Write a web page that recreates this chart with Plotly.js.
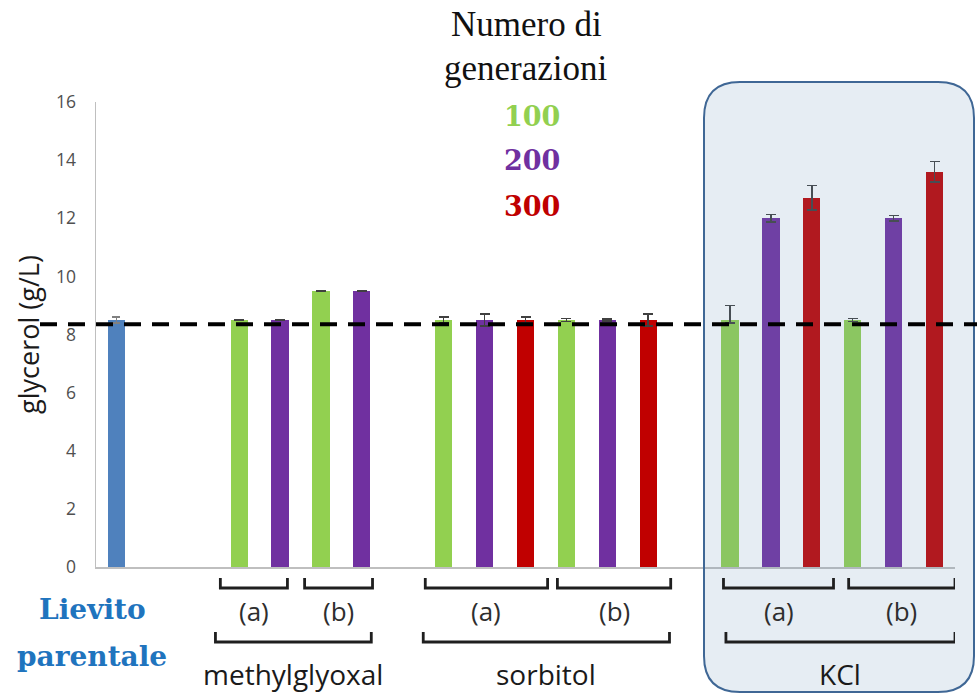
<!DOCTYPE html>
<html>
<head>
<meta charset="utf-8">
<script src="https://cdn.plot.ly/plotly-3.0.1.min.js"></script>
<style>
  html, body { margin: 0; padding: 0; background: #ffffff; }
  #chart { width: 977px; height: 694px; }
</style>
</head>
<body>
<div id="chart"></div>
<script>
// Glycerol production (g/L) of the parental yeast and of evolved lines
// after 100, 200 and 300 generations under three stress conditions.
const parentName = 'Lievito parentale';
const parentValue = [8.5];
const parentError = [0.1];

const conditions = ['methylglyoxal (a)', 'methylglyoxal (b)', 'sorbitol (a)', 'sorbitol (b)', 'KCl (a)', 'KCl (b)'];
const treatments = ['methylglyoxal', 'methylglyoxal', 'sorbitol', 'sorbitol', 'KCl', 'KCl'];
const replicates = ['(a)', '(b)', '(a)', '(b)', '(a)', '(b)'];

const generations = ['100', '200', '300'];
const gen100 = [8.5, 9.5, 8.5, 8.5, 8.5, 8.5];
const gen100ErrPlus = [0, 0, 0.1, 0.05, 0.5, 0.05];
const gen100ErrMinus = [0, 0, 0.1, 0.05, 0.1, 0.05];
const gen200 = [8.5, 9.5, 8.5, 8.5, 12.0, 12.0];
const gen200ErrPlus = [0, 0, 0.2, 0.03, 0.13, 0.1];
const gen200ErrMinus = [0, 0, 0.2, 0.03, 0.13, 0.1];
const gen300 = [null, null, 8.5, 8.5, 12.7, 13.6];
const gen300ErrPlus = [0, 0, 0.1, 0.2, 0.42, 0.35];
const gen300ErrMinus = [0, 0, 0.1, 0.2, 0.42, 0.35];

const baselineLevel = 8.35;

const yTicks = [0, 2, 4, 6, 8, 10, 12, 14, 16];

// ---- styling ----
const genColors = ['#92d050', '#7030a0', '#c00000'];
const parentColor = '#4f81bd';
const errColor = '#404040';

// Plot area in pixels (used to place decorations outside the axes)
const M = { l: 96, r: 22, t: 102, b: 127 };
const W = 977, H = 694;
const PW = W - M.l - M.r, PH = H - M.t - M.b;
const px = v => (v - M.l) / PW;          // pixel x -> paper x
const py = v => (H - M.b - v) / PH;      // pixel y -> paper y

// ---- slot layout: one slot per bar, blank slots between treatments ----
const series = [
  { vals: gen100, plus: gen100ErrPlus, minus: gen100ErrMinus },
  { vals: gen200, plus: gen200ErrPlus, minus: gen200ErrMinus },
  { vals: gen300, plus: gen300ErrPlus, minus: gen300ErrMinus }
];
const parentSlot = 0;
let cursor = 3;
const slotX = series.map(() => []);
const condSlots = [];
conditions.forEach((c, i) => {
  if (i > 0 && treatments[i] !== treatments[i - 1]) cursor += 1;
  const used = [];
  series.forEach((s, k) => {
    if (s.vals[i] !== null) { slotX[k][i] = cursor; used.push(cursor); cursor++; }
    else slotX[k][i] = null;
  });
  condSlots.push(used);
});

const traces = [];
traces.push({
  type: 'bar', name: parentName, x: [parentSlot], y: parentValue,
  width: 0.42, marker: { color: parentColor },
  error_y: { type: 'data', array: parentError, visible: true, color: '#808080', thickness: 1.5, width: 4 },
  hoverinfo: 'y'
});
series.forEach((s, k) => {
  const xs = [], ys = [], ep = [], em = [];
  s.vals.forEach((v, i) => {
    if (v !== null) { xs.push(slotX[k][i]); ys.push(v); ep.push(s.plus[i]); em.push(s.minus[i]); }
  });
  traces.push({
    type: 'bar', name: generations[k], x: xs, y: ys, width: 0.42,
    marker: { color: genColors[k] },
    error_y: { type: 'data', symmetric: false, array: ep, arrayminus: em, visible: true,
               color: errColor, thickness: 1.5, width: 5 },
    hoverinfo: 'y'
  });
});

// ---- brackets below the axis ----
const subPad = [[-0.46, 0.18], [-0.4, 0.26], [-0.45, 0.54], [-0.22, 0.55], [-0.16, 0.53], [-0.1, 0.5]];
const groupNames = ['methylglyoxal', 'sorbitol', 'KCl'];
const groupPad = [[-0.58, 0.23], [-0.5, 0.52], [-0.1, 0.5]];

const shapes = [];
const annotations = [];
const bracketColor = '#1f1f1f';
function bracket(x0, x1, yTopPx, yBotPx) {
  const yt = py(yTopPx), yb = py(yBotPx);
  shapes.push({
    type: 'path', xref: 'x', yref: 'paper',
    path: `M ${x0},${yt} L ${x0},${yb} L ${x1},${yb} L ${x1},${yt}`,
    line: { color: bracketColor, width: 2.8 }, layer: 'above'
  });
}

// KCl highlight box (rounded), tinting everything inside it
(function () {
  const L = px(704), R = px(974), T = py(82), B = py(692);
  const rx = 36 / PW, ry = 36 / PH;
  shapes.push({
    type: 'path', xref: 'paper', yref: 'paper', layer: 'above',
    path: `M ${L + rx},${T} L ${R - rx},${T} Q ${R},${T} ${R},${T - ry} L ${R},${B + ry} Q ${R},${B} ${R - rx},${B} ` +
          `L ${L + rx},${B} Q ${L},${B} ${L},${B + ry} L ${L},${T - ry} Q ${L},${T} ${L + rx},${T} Z`,
    fillcolor: 'rgba(106,150,184,0.17)',
    line: { color: '#3f6795', width: 2 }
  });
})();

// dashed reference level of the parental strain
shapes.push({
  type: 'line', xref: 'paper', yref: 'y', layer: 'above',
  x0: px(40), x1: px(977), y0: baselineLevel, y1: baselineLevel,
  line: { color: '#000000', width: 4, dash: '17px,11px' }
});

const labelFont = { family: 'Open Sans, sans-serif', size: 26, color: '#2e2e2e' };
const groupFont = { family: 'Open Sans, sans-serif', size: 28, color: '#1a1a1a' };

conditions.forEach((c, i) => {
  const s = condSlots[i];
  const x0 = s[0] + subPad[i][0], x1 = s[s.length - 1] + subPad[i][1];
  bracket(x0, x1, 578, 588);
  annotations.push({
    xref: 'x', yref: 'paper', x: (x0 + x1) / 2, y: py(611),
    text: replicates[i], showarrow: false, xanchor: 'center', yanchor: 'middle', font: labelFont
  });
});

groupNames.forEach((g, j) => {
  const idx = treatments.map((t, i) => t === g ? i : -1).filter(i => i >= 0);
  const first = condSlots[idx[0]][0];
  const lastSlots = condSlots[idx[idx.length - 1]];
  const last = lastSlots[lastSlots.length - 1];
  const x0 = first + groupPad[j][0], x1 = last + groupPad[j][1];
  bracket(x0, x1, 632, 642);
  annotations.push({
    xref: 'x', yref: 'paper', x: (x0 + x1) / 2, y: py(674),
    text: g, showarrow: false, xanchor: 'center', yanchor: 'middle', font: groupFont
  });
});

// parental strain label
const parentWords = parentName.split(' ');
const blueFont = { family: 'DejaVu Serif, serif', size: 28, color: '#1f74be' };
annotations.push({ xref: 'paper', yref: 'paper', x: px(92), y: py(609), text: '<b>' + parentWords[0] + '</b>',
  showarrow: false, xanchor: 'center', yanchor: 'middle', font: blueFont });
annotations.push({ xref: 'paper', yref: 'paper', x: px(92), y: py(656), text: '<b>' + parentWords[1] + '</b>',
  showarrow: false, xanchor: 'center', yanchor: 'middle', font: blueFont });

// generation key
const serifFont = { family: 'Liberation Serif, serif', size: 35, color: '#111111' };
annotations.push({ xref: 'paper', yref: 'paper', x: px(526), y: py(24), text: 'Numero di',
  showarrow: false, xanchor: 'center', yanchor: 'middle', font: serifFont });
annotations.push({ xref: 'paper', yref: 'paper', x: px(526), y: py(68), text: 'generazioni',
  showarrow: false, xanchor: 'center', yanchor: 'middle', font: serifFont });
const keyY = [117, 161, 206];
generations.forEach((g, k) => {
  annotations.push({ xref: 'paper', yref: 'paper', x: px(532), y: py(keyY[k]), text: '<b>' + g + '</b>',
    showarrow: false, xanchor: 'center', yanchor: 'middle',
    font: { family: 'DejaVu Serif, serif', size: 27, color: genColors[k] } });
});

const layout = {
  width: W, height: H,
  margin: M,
  paper_bgcolor: '#ffffff',
  plot_bgcolor: 'rgba(0,0,0,0)',
  showlegend: false,
  bargap: 0,
  xaxis: {
    range: [-0.5, 20.5], showgrid: false, zeroline: false, showticklabels: false, ticks: '',
    showline: true, linecolor: '#bfbfbf', linewidth: 1.5, fixedrange: true
  },
  yaxis: {
    range: [0, 16], tickvals: yTicks, ticktext: yTicks.map(String),
    showgrid: false, zeroline: false, showline: true, linecolor: '#bfbfbf', linewidth: 1.5,
    ticks: '', ticklabelstandoff: 15,
    tickfont: { family: 'Open Sans, sans-serif', size: 17.5, color: '#505050' },
    title: { text: 'glycerol (g/L)', standoff: 8, font: { family: 'Open Sans, sans-serif', size: 27, color: '#1a1a1a' } },
    fixedrange: true
  },
  shapes: shapes,
  annotations: annotations
};

Plotly.newPlot('chart', traces, layout, { displayModeBar: false, staticPlot: true });
</script>
</body>
</html>
